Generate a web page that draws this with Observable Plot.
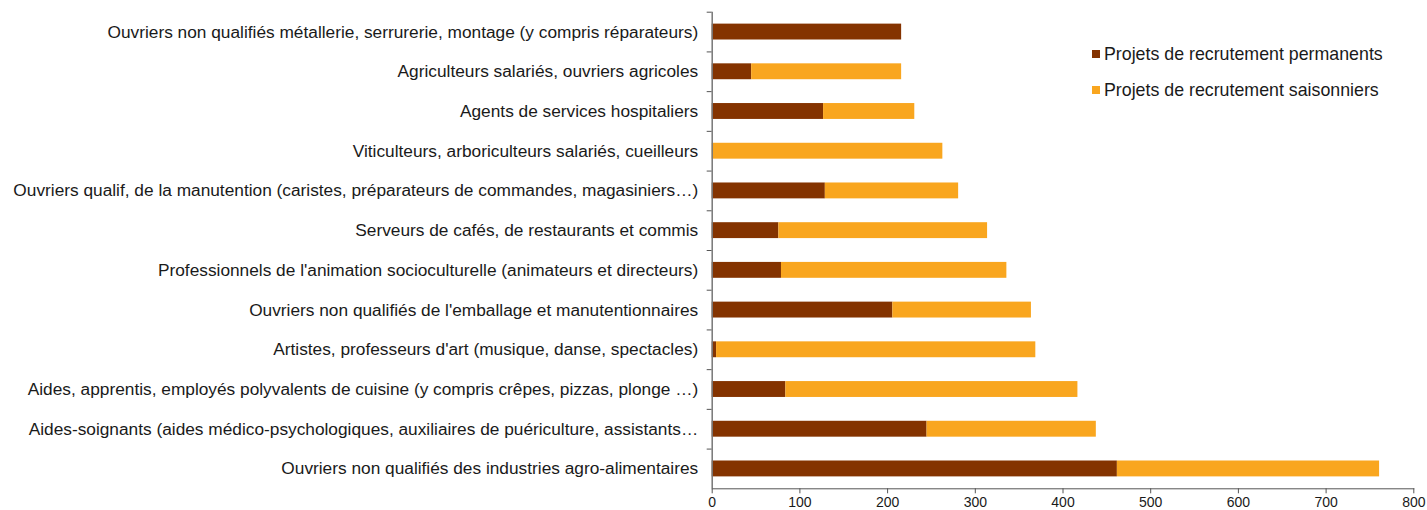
<!DOCTYPE html>
<html><head><meta charset="utf-8">
<script src="https://cdn.jsdelivr.net/npm/d3@7"></script>
<script src="https://cdn.jsdelivr.net/npm/@observablehq/plot@0.6"></script>
<style>
body{margin:0;background:#fff;}
#wrap{position:relative;width:1427px;height:510px;overflow:hidden;}
.lg{position:absolute;left:1092px;font-family:"Liberation Sans",Arial,sans-serif;font-size:17.8px;color:#1a1a1a;white-space:nowrap;line-height:20px;}
.lg span.sw{display:inline-block;width:8px;height:8px;margin-right:4px;vertical-align:2px;}
</style></head><body><div id="wrap"></div>
<script>
const categories = [
  "Ouvriers non qualifiés métallerie, serrurerie, montage (y compris réparateurs)",
  "Agriculteurs salariés, ouvriers agricoles",
  "Agents de services hospitaliers",
  "Viticulteurs, arboriculteurs salariés, cueilleurs",
  "Ouvriers qualif, de la manutention (caristes, préparateurs de commandes, magasiniers…)",
  "Serveurs de cafés, de restaurants et commis",
  "Professionnels de l'animation socioculturelle (animateurs et directeurs)",
  "Ouvriers non qualifiés de l'emballage et manutentionnaires",
  "Artistes, professeurs d'art (musique, danse, spectacles)",
  "Aides, apprentis, employés polyvalents de cuisine (y compris crêpes, pizzas, plonge …)",
  "Aides-soignants (aides médico-psychologiques, auxiliaires de puériculture, assistants…",
  "Ouvriers non qualifiés des industries agro-alimentaires"
];
const permanents  = [216, 45, 127, 0, 129, 76, 79, 206, 5, 84, 245, 462];
const saisonniers = [0, 171, 104, 263, 152, 238, 257, 158, 364, 333, 193, 299];
const seriesNames = ["Projets de recrutement permanents", "Projets de recrutement saisonniers"];
const seriesColors = ["#843300", "#F9A61F"];
const xTicks = [0, 100, 200, 300, 400, 500, 600, 700, 800];

const rows = [];
categories.forEach((c, i) => {
  rows.push({cat: c, serie: seriesNames[0], v: permanents[i]});
  rows.push({cat: c, serie: seriesNames[1], v: saisonniers[i]});
});

const W = 1427, H = 510, mt = 11.7, mb = 21.7;
const step = (H - mt - mb) / categories.length;

const chart = Plot.plot({
  width: W, height: H,
  marginLeft: 711.7, marginRight: 13.7, marginTop: mt, marginBottom: mb,
  style: {fontFamily: "'Liberation Sans', Arial, sans-serif", color: "#1a1a1a", background: "#fff"},
  x: {domain: [0, 800], ticks: xTicks},
  y: {domain: categories, paddingInner: 0.6, paddingOuter: 0.3, round: false},
  color: {domain: seriesNames, range: seriesColors},
  marks: [
    Plot.barX(rows, {y: "cat", x: "v", fill: "serie"}),
    Plot.axisY({tickSize: 0, tickPadding: 14, fontSize: 17.3, label: null}),
    Plot.axisY({tickSize: 5, text: null, dy: -step / 2, stroke: "#555", label: null}),
    Plot.axisX({ticks: xTicks, tickSize: 5, tickPadding: 3, fontSize: 14, label: null, stroke: "#555"}),
    Plot.ruleX([0], {stroke: "#777", strokeWidth: 1.5}),
    Plot.frame({anchor: "bottom", stroke: "#555"})
  ]
});
const wrap = document.getElementById("wrap");
wrap.appendChild(chart);
seriesNames.forEach((n, i) => {
  const d = document.createElement("div");
  d.className = "lg";
  d.style.top = (44 + i * 36) + "px";
  d.innerHTML = `<span class="sw" style="background:${seriesColors[i]}"></span>${n}`;
  wrap.appendChild(d);
});
</script></body></html>
